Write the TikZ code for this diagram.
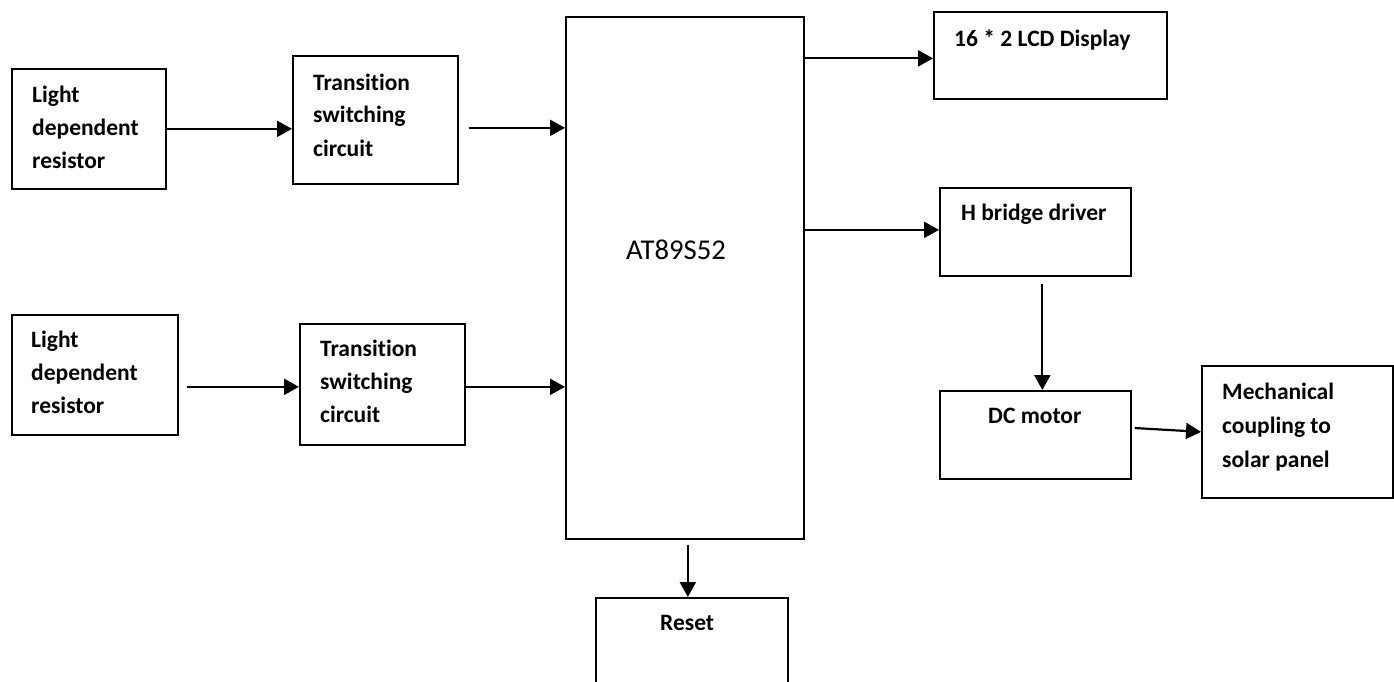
\documentclass[tikz,border=0pt]{standalone}
\usepackage{fontspec}
\setmainfont{Carlito}[Ligatures=CommonOff]
\usetikzlibrary{arrows.meta,calc}
\tikzset{
  blk/.style={draw=black, line width=1.7pt, inner sep=0pt, anchor=north west},
  lbl/.style={inner sep=0pt, anchor=base west, align=left, font=\bfseries\fontsize{23.5}{33}\selectfont},
  arr/.style={line width=2.2pt, -{Triangle[length=15pt,width=16pt]}},
}
\begin{document}
\begin{tikzpicture}[x=1pt,y=-1pt]
\useasboundingbox (0,0) rectangle (1394,682);
\clip (0,0) rectangle (1394,682);
% boxes
\node[blk, minimum width=154pt, minimum height=120pt] (ldr1) at (11,68) {};
\node[blk, minimum width=165pt, minimum height=128pt] (tsc1) at (292,55) {};
\node[blk, minimum width=166pt, minimum height=120pt] (ldr2) at (11,314) {};
\node[blk, minimum width=165pt, minimum height=121pt] (tsc2) at (299,323) {};
\node[blk, minimum width=238pt, minimum height=522pt] (mcu) at (565,16) {};
\node[blk, minimum width=233pt, minimum height=87pt] (lcd) at (933,11) {};
\node[blk, minimum width=191pt, minimum height=88pt] (hb) at (939,187) {};
\node[blk, minimum width=191pt, minimum height=88pt] (dc) at (939,390) {};
\node[blk, minimum width=191pt, minimum height=132pt] (mech) at (1201,365) {};
\node[blk, minimum width=192pt, minimum height=110pt] (rst) at (595,597) {};
% texts (base = baseline of the last line)
\node[lbl] (ldr1t) at (32,168) {Light\\dependent\\resistor};
\node[lbl] (tsc1t) at (313,156) {Transition\\switching\\circuit};
\node[lbl] (ldr2t) at (31,413) {Light\\dependent\\resistor};
\node[lbl] (tsc2t) at (320,422) {Transition\\switching\\circuit};
\node[inner sep=0pt, anchor=base west, font=\fontsize{28.7}{34}\selectfont] (mcut) at (626,259) {AT89S52};
\node[lbl] (lcdt) at (954,47) {16 * 2 LCD Display};
\node[lbl] (hbt) at (961,220) {H bridge driver};
\node[lbl] (dct) at (988,423) {DC motor};
\node[lbl, font=\bfseries\fontsize{23.5}{34}\selectfont] (mecht) at (1222,467) {Mechanical\\coupling to\\solar panel};
\node[lbl] (rstt) at (660,630) {Reset};
% connectors
\draw[arr] (ldr1.east) -- (ldr1.east -| tsc1.west);
\draw[arr, shorten <=10pt] ([yshift=-8pt]tsc1.east) -- ([yshift=-8pt]tsc1.east -| mcu.west);
\draw[arr, shorten <=8pt] ([yshift=-12pt]ldr2.east) -- ([yshift=-12pt]ldr2.east -| tsc2.west);
\draw[arr] ([yshift=-2.5pt]tsc2.east) -- ([yshift=-2.5pt]tsc2.east -| mcu.west);
\draw[arr] ([yshift=-3pt]lcd.west -| mcu.east) -- ([yshift=-3pt]lcd.west);
\draw[arr] ([yshift=2pt]hb.west -| mcu.east) -- ([yshift=2pt]hb.west);
\draw[arr, shorten <=7pt] ([xshift=7pt]hb.south) -- ([xshift=7pt]hb.south |- dc.north);
\draw[arr, shorten <=3pt] ([yshift=7pt]dc.east) -- (mech.west);
\draw[arr, shorten <=5pt] ([xshift=3pt]mcu.south) -- ([xshift=3pt]mcu.south |- rst.north);
\end{tikzpicture}
\end{document}
